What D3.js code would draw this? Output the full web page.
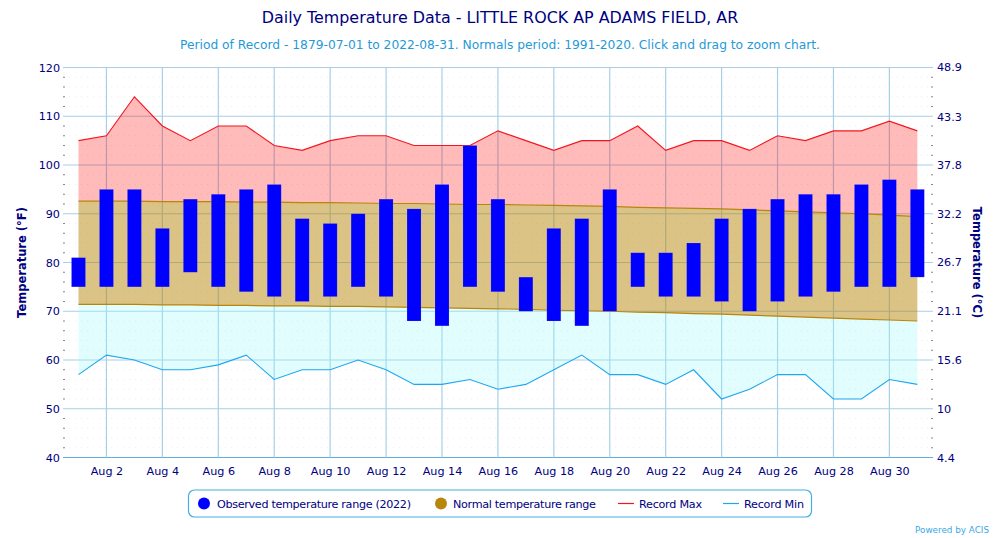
<!DOCTYPE html>
<html><head><meta charset="utf-8">
<script src="https://cdn.jsdelivr.net/npm/d3@7"></script>
<style>
html,body{margin:0;padding:0;background:#fff}
svg{display:block}
text{font-family:"DejaVu Sans",sans-serif}
.axis path{display:none}
</style></head><body>
<svg id="c" width="1000" height="538"></svg>
<script>
const days=d3.range(1,32);
const obsHigh=[81,95,95,87,93,94,95,96,89,88,90,93,91,96,104,93,77,87,89,95,82,82,84,89,91,93,94,94,96,97,95];
const obsLow=[75,75,75,75,78,75,74,73,72,73,75,73,68,67,75,74,70,68,67,70,75,73,73,72,70,72,73,74,75,75,77];
const recordMax=[105,106,114,108,105,108,108,104,103,105,106,106,104,104,104,107,105,103,105,105,108,103,105,105,103,106,105,107,107,109,107];
const recordMin=[57,61,60,58,58,59,61,56,58,58,60,58,55,55,56,54,55,58,61,57,57,55,58,52,54,57,57,52,52,56,55];
const normalHigh=[92.6,92.6,92.6,92.5,92.5,92.5,92.4,92.4,92.3,92.3,92.2,92.1,92.1,92.0,91.9,91.9,91.8,91.7,91.6,91.5,91.3,91.2,91.1,91.0,90.8,90.6,90.4,90.2,90.0,89.7,89.4];
const normalLow=[71.4,71.4,71.4,71.3,71.3,71.2,71.2,71.1,71.1,71.0,71.0,70.9,70.8,70.7,70.6,70.5,70.4,70.2,70.1,70.0,69.8,69.7,69.5,69.4,69.2,69.0,68.8,68.6,68.4,68.2,68.0];
const tickDays=d3.range(2,31,2);
const fTicks=[40,50,60,70,80,90,100,110,120];
const fMinor=d3.range(40,121,2).filter(v=>v%10!==0);
const cTicks=[4.4,10,15.6,21.1,26.7,32.2,37.8,43.3,48.9];
const titleText="Daily Temperature Data - LITTLE ROCK AP ADAMS FIELD, AR";
const subtitleText="Period of Record - 1879-07-01 to 2022-08-31. Normals period: 1991-2020. Click and drag to zoom chart.";
const legendItems=["Observed temperature range (2022)","Normal temperature range","Record Max","Record Min"];

const L=63,R=933,T=67.5,B=457.5,navy="#000080",blue="#1f9ad6",grid="#a8cfe6";
const svg=d3.select("#c");
const x=d3.scaleLinear().domain([0.446,31.56]).range([L,R]);
const y=d3.scaleLinear().domain([40,120]).range([B,T]);
const yC=d3.scaleLinear().domain([4.444,48.889]).range([B,T]);

// grid
const gg=svg.append("g");
gg.selectAll(".mn").data(fMinor).join("line").attr("x1",L).attr("x2",R).attr("y1",d=>y(d)).attr("y2",d=>y(d))
  .attr("stroke","#efebeb").attr("stroke-width",1).attr("stroke-dasharray","1,5");
gg.selectAll(".mt").data(fMinor).join("line").attr("x1",L).attr("x2",L+2).attr("y1",d=>y(d)).attr("y2",d=>y(d)).attr("stroke","#888");
gg.selectAll(".mr").data(fMinor).join("line").attr("x1",R-2).attr("x2",R).attr("y1",d=>y(d)).attr("y2",d=>y(d)).attr("stroke","#888");
gg.selectAll(".mj").data(fTicks).join("line").attr("x1",L).attr("x2",R).attr("y1",d=>y(d)).attr("y2",d=>y(d))
  .attr("stroke",d=>d===40?"#62acd9":grid).attr("stroke-width",1.2);
gg.selectAll(".v").data(tickDays).join("line").attr("x1",d=>x(d)).attr("x2",d=>x(d)).attr("y1",T).attr("y2",B)
  .attr("stroke",grid).attr("stroke-width",1.2);

// bands
const band=(a,b)=>d3.area().x((d,i)=>x(days[i])).y0((d,i)=>y(b[i])).y1((d,i)=>y(a[i]))(days);
const line=a=>d3.line().x((d,i)=>x(days[i])).y((d,i)=>y(a[i]))(days);
svg.append("path").attr("d",band(recordMax,normalHigh)).attr("fill","#ff0000").attr("fill-opacity",.27);
svg.append("path").attr("d",band(normalLow,recordMin)).attr("fill","#9af7fb").attr("fill-opacity",.3);
svg.append("path").attr("d",band(normalHigh,normalLow)).attr("fill","#b8860b").attr("fill-opacity",.5);
svg.append("path").attr("d",line(normalHigh)).attr("fill","none").attr("stroke","#b8860b").attr("stroke-width",1.2);
svg.append("path").attr("d",line(normalLow)).attr("fill","none").attr("stroke","#b8860b").attr("stroke-width",1.2);
svg.append("path").attr("d",line(recordMax)).attr("fill","none").attr("stroke","#f5141e").attr("stroke-width",1.1);
svg.append("path").attr("d",line(recordMin)).attr("fill","none").attr("stroke","#1ea7f0").attr("stroke-width",1.1);

// bars
svg.selectAll(".bar").data(days).join("rect").attr("class","bar")
  .attr("x",d=>x(d)-7).attr("width",14)
  .attr("y",(d,i)=>y(obsHigh[i])).attr("height",(d,i)=>y(obsLow[i])-y(obsHigh[i]))
  .attr("fill","#0000ff").attr("stroke","#ffe680").attr("stroke-opacity",.2).attr("stroke-width",.6);

// axes
const ax=svg.append("g").attr("class","axis").attr("transform",`translate(0,${B})`)
  .call(d3.axisBottom(x).tickValues(tickDays).tickFormat(d=>"Aug "+d).tickSize(0).tickPadding(10));
const ayl=svg.append("g").attr("class","axis").attr("transform",`translate(${L},0)`)
  .call(d3.axisLeft(y).tickValues(fTicks).tickSize(0).tickPadding(3));
const ayr=svg.append("g").attr("class","axis").attr("transform",`translate(${R},0)`)
  .call(d3.axisRight(yC).tickValues(cTicks).tickFormat(d=>String(d)).tickSize(0).tickPadding(4));
svg.selectAll(".axis text").attr("fill",navy).attr("font-size",11.2).style("font-family",'"DejaVu Sans",sans-serif');

// titles
svg.append("text").attr("x",500).attr("y",22.5).attr("text-anchor","middle").attr("fill",navy).attr("font-size",15.9).text(titleText);
svg.append("text").attr("x",500).attr("y",49).attr("text-anchor","middle").attr("fill",blue).attr("font-size",12.25).text(subtitleText);
svg.append("text").attr("transform","translate(26,262.5) rotate(-90)").attr("text-anchor","middle").attr("fill",navy).attr("font-size",11.5).attr("font-weight","bold").text("Temperature (°F)");
svg.append("text").attr("transform","translate(973,262.5) rotate(90)").attr("text-anchor","middle").attr("fill",navy).attr("font-size",11.5).attr("font-weight","bold").text("Temperature (°C)");
svg.append("text").attr("x",989).attr("y",533).attr("text-anchor","end").attr("fill","#39a9e6").attr("font-size",8.8).text("Powered by ACIS");

// legend
const lg=svg.append("g");
lg.append("rect").attr("x",188.5).attr("y",490).attr("width",623).attr("height",27).attr("rx",6)
  .attr("fill","#fff").attr("stroke","#45ade0").attr("stroke-width",1.2);
const ly=503.5;
lg.append("circle").attr("cx",204).attr("cy",ly).attr("r",6).attr("fill","#0000ff");
lg.append("circle").attr("cx",441).attr("cy",ly).attr("r",6).attr("fill","#b8860b");
lg.append("line").attr("x1",618).attr("x2",634).attr("y1",ly).attr("y2",ly).attr("stroke","#f5141e").attr("stroke-width",1.2);
lg.append("line").attr("x1",723).attr("x2",739).attr("y1",ly).attr("y2",ly).attr("stroke","#1ea7f0").attr("stroke-width",1.2);
const legendX=[217,453,639,744],legendW=[194,143,63,60];
legendX.forEach((px,i)=>lg.append("text").attr("x",px).attr("y",ly+4).attr("fill",navy).attr("font-size",11.2)
  .attr("textLength",legendW[i]).attr("lengthAdjust","spacing").text(legendItems[i]));
</script></body></html>
